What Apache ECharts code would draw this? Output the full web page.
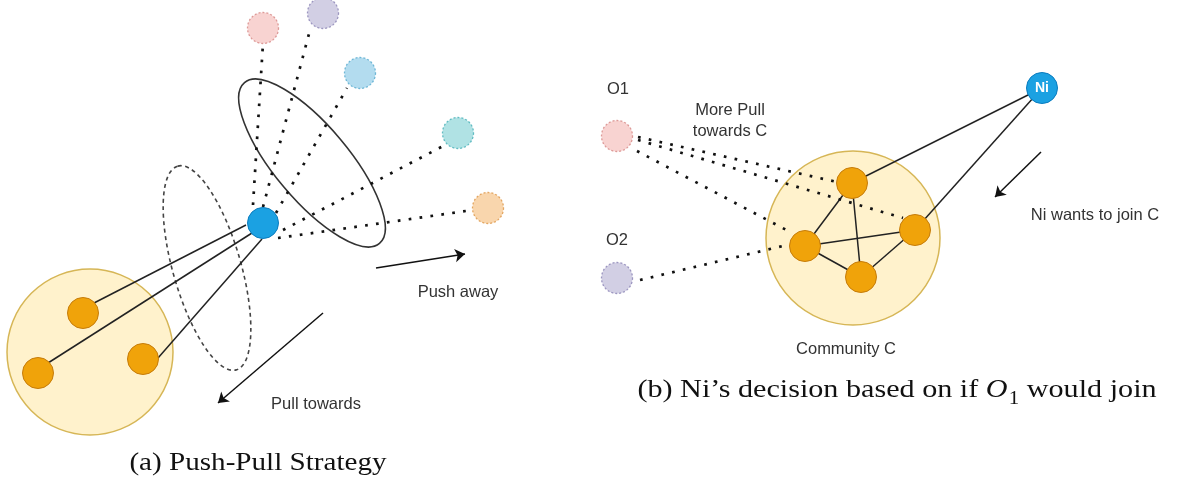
<!DOCTYPE html>
<html>
<head>
<meta charset="utf-8">
<script src="https://cdn.jsdelivr.net/npm/echarts@6/dist/echarts.min.js"></script>
<style>
html,body{margin:0;padding:0;background:#ffffff;}
#chart{width:1177px;height:484px;}
</style>
</head>
<body>
<div id="chart"></div>
<script>
// ================= DATA (diagram coordinates) =================
// ---- Panel (a): Push-Pull Strategy ----
const ppCommunity = [[90, 352, 83]];                       // cx, cy, radius
const ppMembers = [[83, 313], [38, 373], [143, 359]];      // orange community nodes
const ppAgent = [[263, 223]];                              // blue node
const ppOthers = [[263, 28], [323, 13], [360, 73], [458, 133], [488, 208]]; // outside nodes
const ppRings = [[312, 163, 105, 37, 50, 0], [207, 268, 106, 34, 74, 1]];   // cx, cy, a, b, tilt deg, dashed
const ppPullEdges = [
  [[246, 225], [94, 303]],
  [[252, 233], [48, 363]],
  [[262, 239], [158, 358]]
];
const ppPushEdges = [
  [[253, 205], [263, 43]],
  [[263, 207], [310, 30]],
  [[276, 213], [347, 88]],
  [[283, 230], [445, 145]],
  [[278, 238], [473, 210]]
];
const ppArrows = [
  [[376, 268], [465, 254]],
  [[323, 313], [218, 403]]
];
const ppLabels = [[458, 292, 'Push away'], [316, 404, 'Pull towards']];

// ---- Panel (b): Ni's decision ----
const cCommunity = [[853, 238, 87]];
const cMembers = [[852, 183], [915, 230], [805, 246], [861, 277]];   // A, B, C, D
const cMemberEdges = [[0, 2], [0, 3], [2, 1], [2, 3], [3, 1]];       // index pairs
const niNode = [[1042, 88, 'Ni']];
const niEdges = [[0, 0], [0, 1]];                                     // Ni -> member index
const oNodes = [[617, 136], [617, 278]];
const oPullEdges = [
  [[638, 137], [837, 182]],
  [[638, 140], [903, 218]],
  [[637, 151], [792, 233]],
  [[640, 280], [787, 245]]
];
const niArrows = [[[1041, 152], [995, 197]]];
const cLabels = [
  [618, 89, 'O1'], [617, 240, 'O2'],
  [730, 110, 'More Pull'], [730, 131, 'towards C'],
  [1095, 215, 'Ni wants to join C'], [846, 349, 'Community C']
];

// ---- Captions ----
const captions = [
  [258, 463, '(a) Push-Pull Strategy'],
  [897, 390, '(b) Ni\u2019s decision based on if {i|O}{s|1} would join']
];

// ================= STYLES =================
const captionScale = [1.12, 1.16];
const othersFill = ['#f8d3d1', '#d2cfe4', '#b3dcef', '#b0e2e4', '#f9d6ad'];
const othersStroke = ['#dd9a98', '#9c96c0', '#6fb7d6', '#62bcc2', '#e3a662'];
const orangeStyle = {color: '#f0a30a', borderColor: '#c67c0a', borderWidth: 1, opacity: 1};
const blueStyle = {color: '#1ba1e2', borderColor: '#0a7cbf', borderWidth: 1, opacity: 1};
const labelFont = '"Liberation Sans", Arial, Helvetica, sans-serif';
const serifFont = '"Liberation Serif", "Times New Roman", serif';

function seg(list) { return list.map(p => ({coords: p})); }

const memberEdgeCoords = cMemberEdges.map(e => [cMembers[e[0]], cMembers[e[1]]]);
const niEdgeCoords = niEdges.map(e => [niNode[e[0]].slice(0, 2), cMembers[e[1]]]);

function circleSeries(name, data) {
  return {
    name: name, type: 'custom', coordinateSystem: 'cartesian2d', z: 1,
    data: data, silent: true,
    renderItem: function (params, api) {
      const c = api.coord([api.value(0), api.value(1)]);
      const s = api.size([api.value(2), api.value(2)]);
      return {type: 'circle', shape: {cx: c[0], cy: c[1], r: s[0]},
        style: {fill: '#fff2cc', stroke: '#d6b656', lineWidth: 1.5}};
    }
  };
}

function textSeries(name, data, style, scales, z) {
  return {
    name: name, type: 'custom', coordinateSystem: 'cartesian2d', z: z || 6,
    data: data.map(d => [d[0], d[1]]), silent: true,
    renderItem: function (params, api) {
      const c = api.coord([api.value(0), api.value(1)]);
      const d = data[params.dataIndex];
      const sx = scales ? scales[params.dataIndex] : 1;
      return {type: 'text', x: c[0], y: c[1], scaleX: sx, scaleY: 1,
        style: Object.assign({text: d[2], align: 'center', verticalAlign: 'middle'}, style)};
    }
  };
}

const dotted = {color: '#111', width: 2.7, type: [2.7, 8.3], cap: 'butt', opacity: 1};
const nodeOthers = (list) => list.map((p, i) => ({value: p, itemStyle: {color: othersFill[i], borderColor: othersStroke[i], borderWidth: 1.3, borderType: [2, 2], opacity: 1}}));

const option = {
  animation: false,
  backgroundColor: '#ffffff',
  grid: {left: 0, right: 0, top: 0, bottom: 0, containLabel: false},
  xAxis: {type: 'value', min: 0, max: 1177, show: false},
  yAxis: {type: 'value', min: 0, max: 484, inverse: true, show: false},
  series: [
    circleSeries('ppCommunity', ppCommunity),
    circleSeries('cCommunity', cCommunity),
    {
      name: 'rings', type: 'custom', coordinateSystem: 'cartesian2d', z: 2, silent: true,
      data: ppRings,
      renderItem: function (params, api) {
        const c = api.coord([api.value(0), api.value(1)]);
        const s = api.size([api.value(2), api.value(3)]);
        const dashed = api.value(5) === 1;
        return {type: 'ellipse', x: c[0], y: c[1], rotation: -api.value(4) * Math.PI / 180,
          shape: {cx: 0, cy: 0, rx: s[0], ry: s[1]},
          style: {fill: null, stroke: dashed ? '#444' : '#333', lineWidth: 1.6,
            lineDash: dashed ? [4, 3.5] : null}};
      }
    },
    {name: 'pull', type: 'lines', coordinateSystem: 'cartesian2d', z: 3, silent: true,
      lineStyle: {color: '#222', width: 1.5, opacity: 1}, data: seg(ppPullEdges)},
    {name: 'push', type: 'lines', coordinateSystem: 'cartesian2d', z: 3, silent: true,
      lineStyle: dotted, data: seg(ppPushEdges)},
    {name: 'arrows', type: 'lines', coordinateSystem: 'cartesian2d', z: 3, silent: true,
      symbol: ['none', 'arrow'], symbolSize: [0, 10],
      lineStyle: {color: '#111', width: 1.5, opacity: 1}, data: seg(ppArrows.concat(niArrows))},
    {name: 'memberEdges', type: 'lines', coordinateSystem: 'cartesian2d', z: 3, silent: true,
      lineStyle: {color: '#222', width: 1.5, opacity: 1}, data: seg(memberEdgeCoords.concat(niEdgeCoords))},
    {name: 'oPull', type: 'lines', coordinateSystem: 'cartesian2d', z: 3, silent: true,
      lineStyle: dotted, data: seg(oPullEdges)},
    {name: 'ppMembers', type: 'scatter', z: 4, symbolSize: 31, data: ppMembers, itemStyle: orangeStyle, silent: true},
    {name: 'cMembers', type: 'scatter', z: 4, symbolSize: 31, data: cMembers, itemStyle: orangeStyle, silent: true},
    {name: 'ppAgent', type: 'scatter', z: 4, symbolSize: 31, data: ppAgent, itemStyle: blueStyle, silent: true},
    {name: 'ni', type: 'scatter', z: 4, symbolSize: 31, silent: true,
      data: niNode.map(d => [d[0], d[1]]), itemStyle: blueStyle,
      label: {show: true, position: 'inside', formatter: () => niNode[0][2], color: '#ffffff',
        fontFamily: labelFont, fontWeight: 'bold', fontSize: 14}},
    {name: 'ppOthers', type: 'scatter', z: 4, symbolSize: 31, silent: true, data: nodeOthers(ppOthers)},
    {name: 'oNodes', type: 'scatter', z: 4, symbolSize: 31, silent: true, data: nodeOthers(oNodes)},
    textSeries('labels', ppLabels.concat(cLabels), {fontFamily: labelFont, fontSize: 16.5, fill: '#333'}),
    textSeries('captions', captions, {fontFamily: serifFont, fontSize: 26, fill: '#111',
      rich: {
        i: {fontFamily: serifFont, fontStyle: 'italic', fontSize: 26, fill: '#111'},
        s: {fontFamily: serifFont, fontSize: 18, fill: '#111', padding: [18, 0, 0, 1]}
      }}, captionScale)
  ]
};

const chart = echarts.init(document.getElementById('chart'), null, {renderer: 'canvas'});
chart.setOption(option);
</script>
</body>
</html>
